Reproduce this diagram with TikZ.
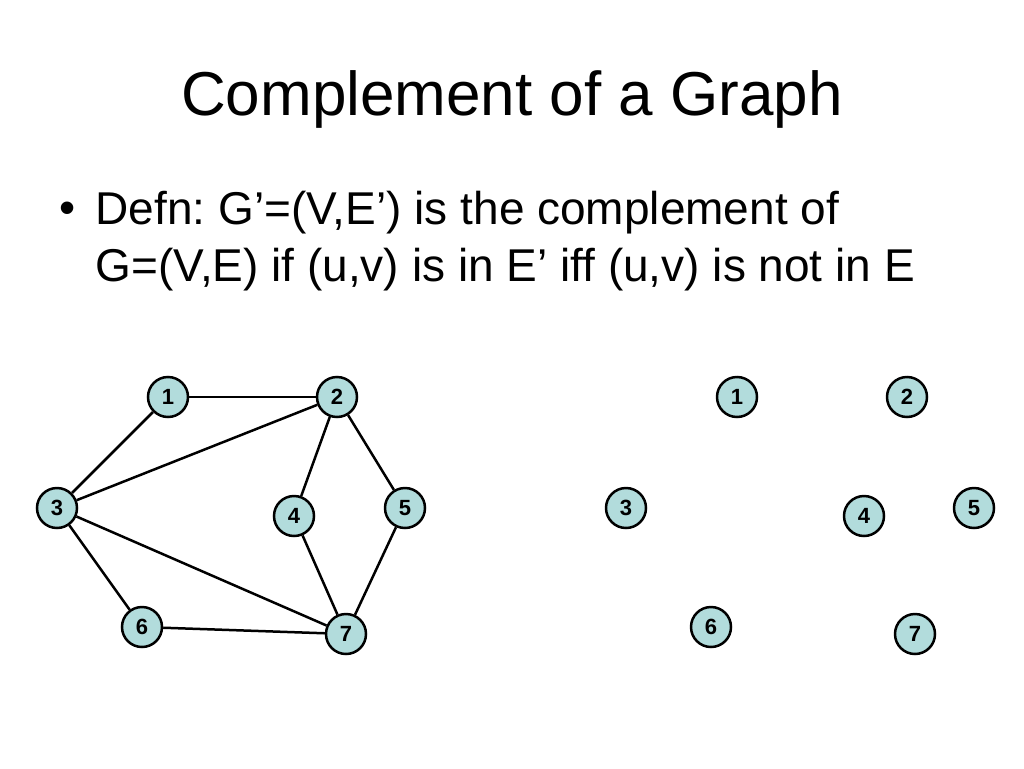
\documentclass[tikz,border=0pt]{standalone}
\usepackage{fontspec}
\setmainfont{Liberation Sans}
\begin{document}
\frenchspacing
\begin{tikzpicture}[x=1pt,y=-1pt,
  v/.style={circle,draw,line width=2.5pt,fill={rgb,255:red,178;green,220;blue,220},minimum size=40pt,inner sep=0pt,font=\fontsize{22}{22}\selectfont\bfseries},
  e/.style={line width=2.5pt}]
\useasboundingbox (0,0) rectangle (1024,768);
\node (title) at (512,99) {\fontsize{62}{70}\selectfont Complement of a Graph};
\node[anchor=west] (b) at (56,213) {\fontsize{46}{50}\selectfont •};
\node[anchor=west,align=left,font=\fontsize{46}{57}\selectfont] (t) at (92,241) {Defn: G’=(V,E’) is the complement of\\G=(V,E) if (u,v) is in E’ iff (u,v) is not in E};
\foreach \n/\x/\y in {1/168/397,2/337/397,3/57/508,4/294/516,5/405/508,6/142/627,7/346/634}{
  \node[v] (a\n) at (\x,\y) {\n};}
\foreach \n/\x/\y in {1/737/397,2/907/397,3/626/508,4/864/516,5/974/508,6/711/627,7/915/634}{
  \node[v] (c\n) at (\x,\y) {\n};}
\foreach \p/\q in {1/2,1/3,3/2,2/4,2/5,3/7,3/6,6/7,4/7,5/7}{
  \draw[e] (a\p) -- (a\q);}
\end{tikzpicture}
\end{document}
